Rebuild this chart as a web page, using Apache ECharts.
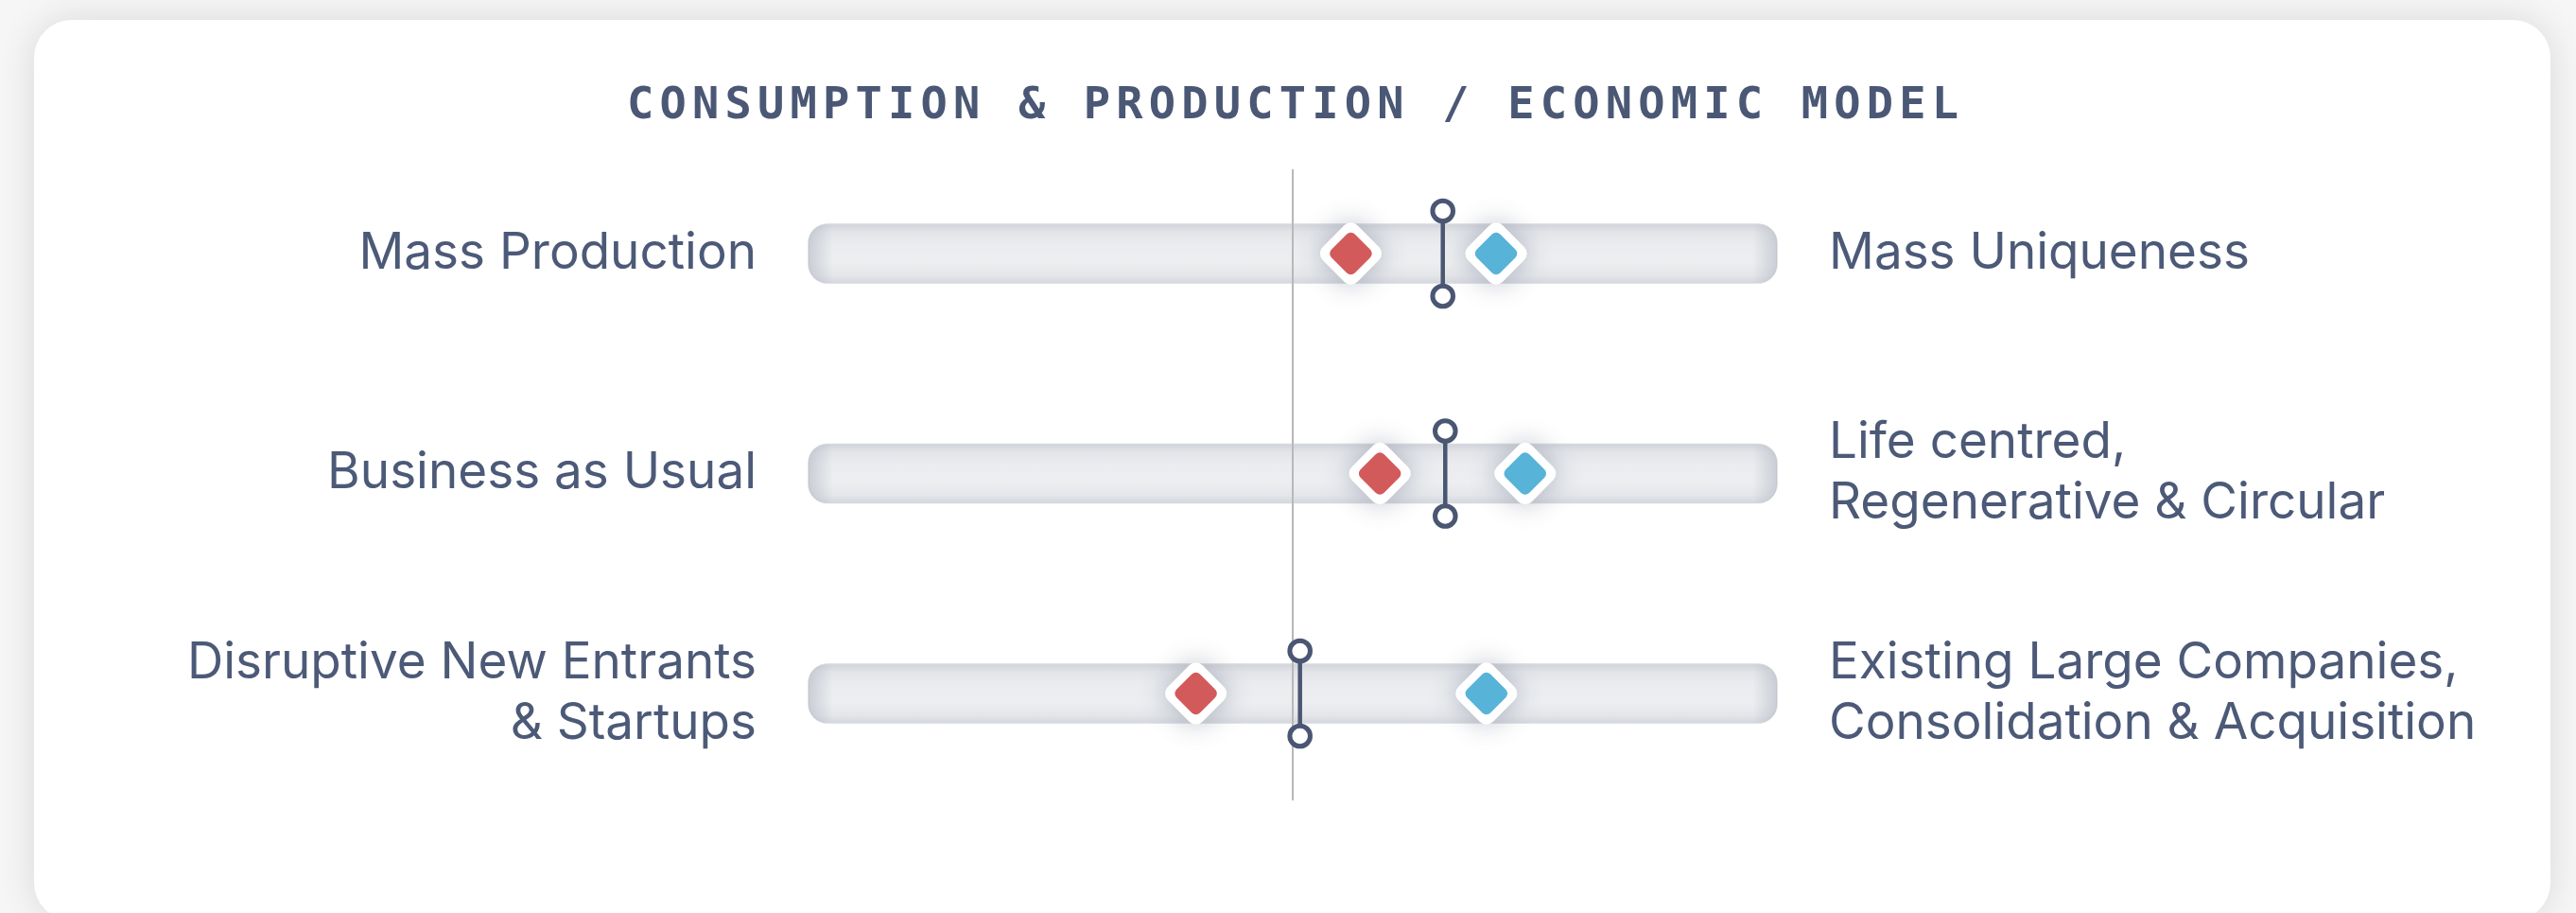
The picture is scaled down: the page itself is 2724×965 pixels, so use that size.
<!DOCTYPE html>
<html>
<head>
<meta charset="utf-8">
<title>Consumption & Production / Economic Model</title>
<script src="https://cdn.jsdelivr.net/npm/echarts@6/dist/echarts.min.js"></script>
<style>
  html, body { margin: 0; padding: 0; background: #f6f6f6; }
  #chart { width: 2724px; height: 965px; }
</style>
</head>
<body>
<div id="chart"></div>
<script>
// data
const TITLE = 'CONSUMPTION & PRODUCTION / ECONOMIC MODEL';
const LEFT_LABELS = ['Mass Production', 'Business as Usual', 'Disruptive New Entrants\n& Startups'];
const RIGHT_LABELS = ['Mass Uniqueness', 'Life centred,\nRegenerative & Circular', 'Existing Large Companies,\nConsolidation & Acquisition'];
const SCALE = [-100, 100];
const CENTER = [0];
const RED_VALUES = [12, 18, -20];
const BLUE_VALUES = [42, 48, 40];
const MID_VALUES = [31, 31.5, 1.5];

const TEXT_COLOR = '#4c5a78';
const DARK = '#4a5672';

const chart = echarts.init(document.getElementById('chart'));

// spaced monospace title, one rich token per letter
const titleText = TITLE.split('').map(ch => '{t|' + ch + '}').join('');

const rowIndex = LEFT_LABELS.map((_, i) => i);

// rounded diamond: white outer with shadow, coloured inner
const diamond = (name, values, color) => ({
    name: name,
    type: 'custom',
    z: 4,
    data: values.map((v, i) => [v, i]),
    renderItem: (params, api) => {
        const p = api.coord([api.value(0), api.value(1)]);
        const so = 52, ro = 10;
        const si = 35, ri = 6;
        return {
            type: 'group',
            x: p[0],
            y: p[1],
            rotation: Math.PI / 4,
            children: [
                {
                    type: 'rect',
                    shape: { x: -so / 2, y: -so / 2, width: so, height: so, r: ro },
                    style: {
                        fill: '#ffffff',
                        shadowBlur: 30,
                        shadowColor: 'rgba(70, 80, 110, 0.4)'
                    }
                },
                {
                    type: 'rect',
                    shape: { x: -si / 2, y: -si / 2, width: si, height: si, r: ri },
                    style: { fill: color }
                }
            ]
        };
    }
});

chart.setOption({
    backgroundColor: '#f6f6f6',
    animation: false,
    graphic: [
        {
            type: 'rect',
            z: -10,
            shape: { x: 36, y: 21, width: 2661, height: 952, r: 40 },
            style: { fill: '#ffffff', shadowBlur: 40, shadowColor: 'rgba(0, 0, 0, 0.12)' }
        },
        {
            type: 'text',
            z: 10,
            x: 1367,
            y: 113,
            style: {
                text: titleText,
                align: 'center',
                verticalAlign: 'middle',
                rich: {
                    t: {
                        fontFamily: 'DejaVu Sans Mono',
                        fontWeight: 'bold',
                        fontSize: 47,
                        fill: '#4b5875',
                        padding: [0, 3.1, 0, 3.1]
                    }
                }
            }
        }
    ],
    grid: { left: 855, right: 845, top: 268, bottom: 232 },
    xAxis: {
        type: 'value',
        min: SCALE[0],
        max: SCALE[1],
        show: false
    },
    yAxis: [
        {
            type: 'category',
            data: LEFT_LABELS,
            inverse: true,
            boundaryGap: false,
            axisLine: { show: false },
            axisTick: { show: false },
            splitLine: { show: false },
            axisLabel: {
                margin: 55,
                fontFamily: 'Inter',
                fontSize: 53,
                lineHeight: 64,
                color: TEXT_COLOR,
                align: 'right'
            }
        },
        {
            type: 'category',
            position: 'right',
            data: RIGHT_LABELS,
            inverse: true,
            boundaryGap: false,
            axisLine: { show: false },
            axisTick: { show: false },
            splitLine: { show: false },
            axisLabel: {
                margin: 55,
                fontFamily: 'Inter',
                fontSize: 53,
                lineHeight: 64,
                color: TEXT_COLOR,
                align: 'left'
            }
        }
    ],
    series: [
        {
            // tracks
            name: 'track',
            type: 'custom',
            z: 1,
            silent: true,
            data: rowIndex.map(i => [SCALE[0], SCALE[1], i]),
            renderItem: (params, api) => {
                const a = api.coord([api.value(0), api.value(2)]);
                const b = api.coord([api.value(1), api.value(2)]);
                const h = 62;
                const shape = { x: a[0], y: a[1] - h / 2, width: b[0] - a[0], height: h, r: 20 };
                return {
                    type: 'group',
                    children: [
                        {
                            type: 'rect',
                            shape: shape,
                            style: {
                                fill: new echarts.graphic.LinearGradient(0, 0, 0, 1, [
                                    { offset: 0, color: '#cfd2d8' },
                                    { offset: 0.14, color: '#e2e4e8' },
                                    { offset: 0.35, color: '#eaecef' },
                                    { offset: 0.65, color: '#eceef0' },
                                    { offset: 0.86, color: '#e4e6ea' },
                                    { offset: 1, color: '#d3d6dc' }
                                ]),
                                stroke: '#d6d9de',
                                lineWidth: 1.5
                            }
                        },
                        {
                            type: 'rect',
                            shape: shape,
                            style: {
                                fill: new echarts.graphic.LinearGradient(0, 0, 1, 0, [
                                    { offset: 0, color: 'rgba(175, 180, 192, 0.55)' },
                                    { offset: 0.025, color: 'rgba(175, 180, 192, 0)' },
                                    { offset: 0.975, color: 'rgba(175, 180, 192, 0)' },
                                    { offset: 1, color: 'rgba(175, 180, 192, 0.55)' }
                                ])
                            }
                        }
                    ]
                };
            }
        },
        {
            // centre reference line
            name: 'centre',
            type: 'custom',
            z: 2,
            silent: true,
            data: CENTER.map(v => [v]),
            renderItem: (params, api) => {
                const top = api.coord([api.value(0), 0]);
                const bottom = api.coord([api.value(0), LEFT_LABELS.length - 1]);
                return {
                    type: 'line',
                    shape: { x1: top[0], y1: top[1] - 89, x2: bottom[0], y2: bottom[1] + 113 },
                    style: { stroke: '#b8b8b8', lineWidth: 2 }
                };
            }
        },
        diamond('Group A', RED_VALUES, '#d35a5b'),
        diamond('Group B', BLUE_VALUES, '#57b3d8'),
        {
            // dumbbell marker
            name: 'Midpoint',
            type: 'custom',
            z: 5,
            data: MID_VALUES.map((v, i) => [v, i]),
            renderItem: (params, api) => {
                const p = api.coord([api.value(0), api.value(1)]);
                const off = 45;
                const r = 10.8;
                return {
                    type: 'group',
                    children: [
                        {
                            type: 'line',
                            shape: { x1: p[0], y1: p[1] - off + r, x2: p[0], y2: p[1] + off - r },
                            style: { stroke: DARK, lineWidth: 4.5 }
                        },
                        {
                            type: 'circle',
                            shape: { cx: p[0], cy: p[1] - off, r: r },
                            style: { fill: '#ffffff', stroke: DARK, lineWidth: 5 }
                        },
                        {
                            type: 'circle',
                            shape: { cx: p[0], cy: p[1] + off, r: r },
                            style: { fill: '#ffffff', stroke: DARK, lineWidth: 5 }
                        }
                    ]
                };
            }
        }
    ]
});
</script>
</body>
</html>
